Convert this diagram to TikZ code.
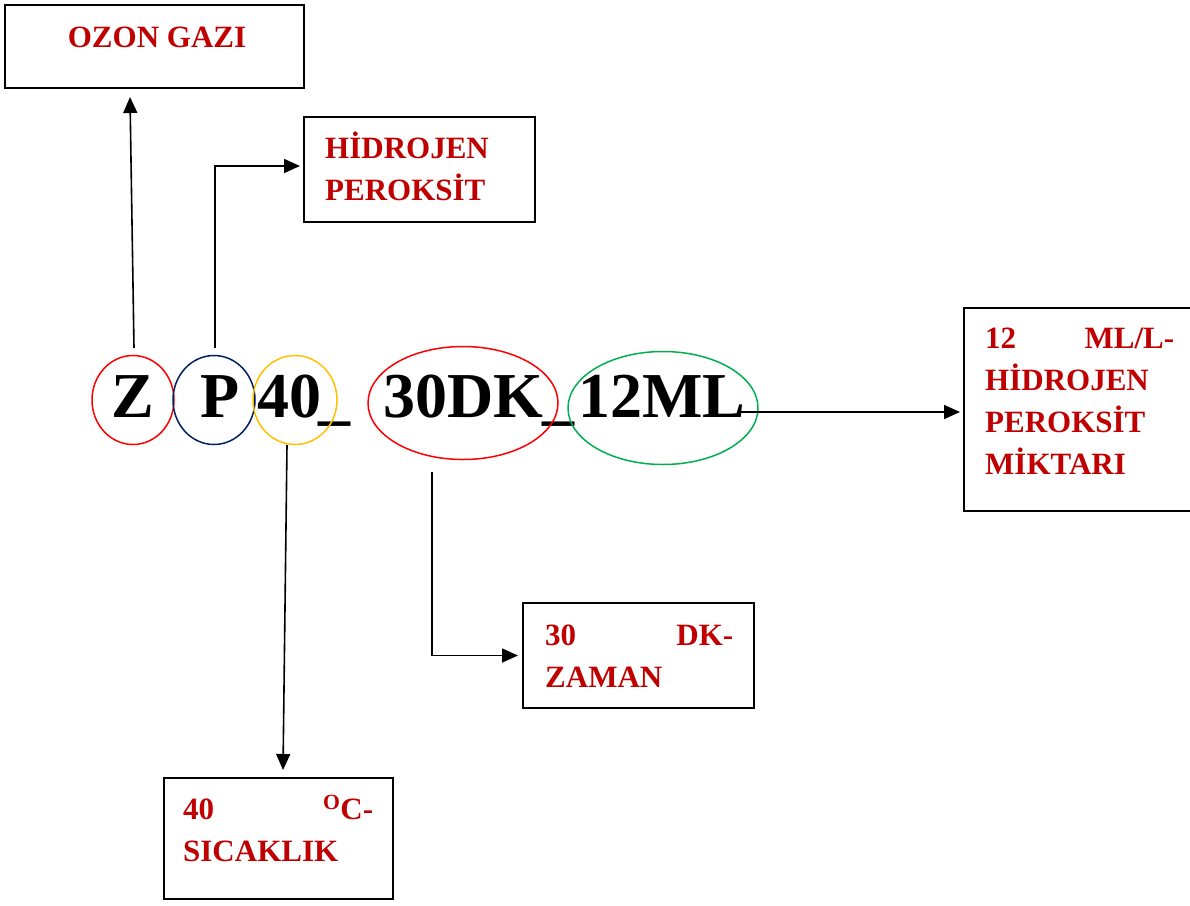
\documentclass[tikz,border=0pt]{standalone}
\usepackage{fontspec}
\setmainfont{Liberation Serif}
\usepackage{xcolor}
\usetikzlibrary{positioning, arrows.meta, shapes.geometric}

\definecolor{txtred}{HTML}{C00000}
\definecolor{ringred}{HTML}{FF0000}
\definecolor{ringnavy}{HTML}{002060}
\definecolor{ringyellow}{HTML}{FFC000}
\definecolor{ringgreen}{HTML}{00B050}

\begin{document}
\begin{tikzpicture}[
        x=1pt, y=-1pt,
        box_style/.style={draw, line width=1.6pt, inner sep=0pt, outer sep=0pt, anchor=north west},
        label_style/.style={text=txtred, font=\fontsize{31}{42}\selectfont\bfseries, inner sep=0pt, anchor=base west, align=left},
        code_style/.style={font=\fontsize{64}{64}\selectfont\bfseries, inner sep=0pt, anchor=base west},
        ring_style/.style={ellipse, draw, line width=1.5pt, inner sep=0pt},
        arrow_style/.style={line width=1.6pt, -{Triangle[length=16pt, width=14pt]}}
    ]
        \useasboundingbox (0,0) rectangle (1190,905);

        % Boxes
        \node[box_style, minimum width=299, minimum height=83] (ozon) at (5,5) {};
        \node[box_style, minimum width=231, minimum height=105] (hidro) at (304,117) {};
        \node[box_style, minimum width=230, minimum height=203] (miktar) at (964,308) {};
        \node[box_style, minimum width=231, minimum height=105] (zaman) at (523,603) {};
        \node[box_style, minimum width=229, minimum height=121] (sicak) at (164,778) {};

        % Box texts
        \node[label_style, anchor=base] (ozon_txt) at (157,47) {OZON GAZI};
        \node[label_style, text width=200pt] (hidro_txt) at (325,158) {HİDROJEN\\PEROKSİT};
        \node[label_style, text width=189pt] (miktar_txt) at (985,348)
            {\hbox to \linewidth{12\hfill ML/L-}\\HİDROJEN\\PEROKSİT\\MİKTARI};
        \node[label_style, text width=188pt] (zaman_txt) at (545,645)
            {\hbox to \linewidth{30\hfill DK-}\\ZAMAN};
        \node[label_style, text width=190pt] (sicak_txt) at (183,819)
            {\hbox to \linewidth{40\hfill\textsuperscript{O}C-}\\SICAKLIK};

        % Code letters
        \node[code_style] (code_z) at (111,417) {Z};
        \node[code_style] (code_p) at (200,417) {P};
        \node[code_style] (code_t) at (257,417) {40};
        \node[code_style] (code_u1) at (318,417) {\_};
        \node[code_style] (code_d) at (383,417) {30DK};
        \node[code_style] (code_u2) at (542,417) {\_};
        \node[code_style] (code_m) at (578,417) {12ML};

        % Rings
        \node[ring_style, draw=ringred, minimum width=82, minimum height=89] (ring_z) at (133,400) {};
        \node[ring_style, draw=ringnavy, minimum width=82, minimum height=89] (ring_p) at (214,400) {};
        \node[ring_style, draw=ringyellow, minimum width=84, minimum height=89] (ring_t) at (295,400) {};
        \node[ring_style, draw=ringred, minimum width=190, minimum height=113] (ring_d) at (463,403) {};
        \node[ring_style, draw=ringgreen, minimum width=190, minimum height=113] (ring_m) at (663,408) {};

        % Connector ends
        \coordinate (z_from) at (134,348);
        \coordinate (z_to) at (130,97);
        \coordinate (p_from) at (215,348);
        \coordinate (t_from) at (287,445);
        \coordinate (t_to) at (283,770);
        \coordinate (d_from) at (432,472);
        \coordinate (m_from) at (740,412);

        % Arrows
        \draw[arrow_style] (z_from) -- (z_to);
        \draw[arrow_style, shorten >=4pt] (p_from) |- ([yshift=3.5pt]hidro.west);
        \draw[arrow_style] (t_from) -- (t_to);
        \draw[arrow_style, shorten >=5pt] (d_from) |- (zaman.west);
        \draw[arrow_style, shorten >=4pt] (m_from) -- (m_from -| miktar.west);
    \end{tikzpicture}
\end{document}
